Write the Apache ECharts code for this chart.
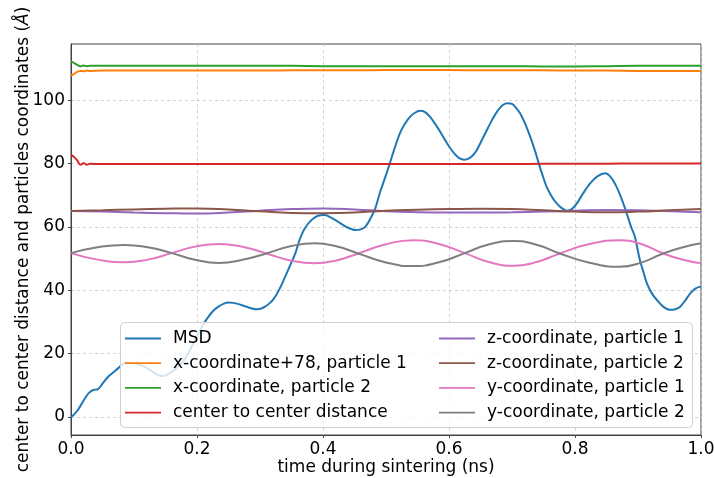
<!DOCTYPE html>
<html>
<head>
<meta charset="utf-8">
<script src="https://cdn.jsdelivr.net/npm/echarts@6/dist/echarts.min.js"></script>
<style>
html,body{margin:0;padding:0;background:#fff;}
#chart{width:714px;height:478px;}
</style>
</head>
<body>
<div id="chart"></div>
<script>
// ---- data ----
var seriesNames = ['MSD', 'x-coordinate+78, particle 1', 'x-coordinate, particle 2', 'center to center distance',
  'z-coordinate, particle 1', 'z-coordinate, particle 2', 'y-coordinate, particle 1', 'y-coordinate, particle 2'];
var xTickLabels = ['0.0', '0.2', '0.4', '0.6', '0.8', '1.0'];
var yTickValues = [0, 20, 40, 60, 80, 100];

var msdT = [0,0.005,0.012,0.018,0.022,0.028,0.035,0.043,0.05,0.059,0.067,0.075,0.086,0.1,0.117,0.133,0.144,0.152,0.16,0.17,
  0.178,0.186,0.194,0.202,0.21,0.218,0.226,0.234,0.242,0.25,0.258,0.266,0.281,0.295,0.302,0.308,0.316,0.324,0.332,0.34,
  0.348,0.356,0.363,0.371,0.382,0.392,0.403,0.413,0.424,0.437,0.451,0.46,0.467,0.475,0.483,0.49,0.498,0.506,0.514,0.522,
  0.53,0.538,0.546,0.554,0.562,0.57,0.578,0.586,0.594,0.602,0.61,0.617,0.624,0.631,0.638,0.644,0.652,0.66,0.668,0.676,
  0.684,0.692,0.7,0.707,0.713,0.721,0.729,0.737,0.744,0.75,0.755,0.763,0.771,0.779,0.787,0.795,0.803,0.813,0.824,0.836,
  0.848,0.857,0.866,0.874,0.882,0.889,0.895,0.903,0.909,0.914,0.922,0.93,0.94,0.951,0.959,0.967,0.975,0.983,0.991,1.0];
var msdV = [0,0.8,2.5,4.5,5.8,7.5,8.5,8.8,10.5,12.7,14.0,15.4,17.1,16.9,15.9,13.8,12.9,13.3,14.3,15.9,
  17.5,20.1,23.2,26.4,29.2,31.6,33.5,34.8,35.7,36.1,36.0,35.6,34.6,34.0,34.2,34.8,36.0,37.9,40.8,44.3,
  47.9,51.6,56.0,59.5,62.2,63.5,63.7,62.9,61.6,60.0,59.0,59.2,60.0,62.5,65.8,70.6,75.2,80.0,85.0,89.5,
  92.5,94.7,96.0,96.6,96.2,94.7,92.5,90.0,87.3,84.8,82.8,81.6,81.2,81.5,82.6,84.2,87.3,90.5,93.6,96.3,
  98.2,99.0,98.8,97.4,95.8,92.5,88.4,83.7,79.0,75.4,72.6,69.6,67.4,65.9,65.1,65.6,67.4,70.6,73.7,76.0,
  76.9,75.6,72.6,68.8,64.3,60.0,56.9,49.5,45.5,42.2,39.0,36.9,34.8,33.8,34.0,34.8,36.8,39.0,40.5,41.2];

var xcT = [0,0.005,0.01,0.015,0.02,0.025,0.03,0.05,0.1,0.15,0.2,0.25,0.3,0.35,0.4,0.45,0.5,0.55,0.6,0.65,0.7,0.75,0.8,0.85,0.9,0.95,1.0];
var xP1 = [107.7,108.3,108.9,109.2,109.1,109.3,109.2,109.3,109.3,109.3,109.3,109.3,109.3,109.4,109.4,109.4,109.5,109.5,109.5,109.4,109.4,109.4,109.3,109.3,109.2,109.2,109.2];
var xP2 = [112.2,111.7,111.1,110.7,110.9,110.7,110.8,110.8,110.8,110.8,110.8,110.8,110.8,110.8,110.7,110.7,110.7,110.7,110.7,110.7,110.7,110.6,110.6,110.7,110.8,110.8,110.8];
var ctc = [82.7,82.0,80.9,79.6,80.1,79.6,79.9,79.8,79.8,79.8,79.8,79.8,79.8,79.8,79.8,79.8,79.8,79.8,79.8,79.8,79.8,79.9,79.9,79.9,80.0,80.0,80.0];

var zT = [0,0.05,0.1,0.15,0.2,0.25,0.3,0.35,0.4,0.45,0.5,0.55,0.6,0.65,0.7,0.75,0.8,0.85,0.9,0.95,1.0];
var zP1 = [65.0,64.8,64.5,64.3,64.2,64.5,65.1,65.6,65.8,65.5,64.9,64.6,64.5,64.5,64.6,64.8,65.1,65.3,65.2,64.9,64.6];
var zP2 = [65.0,65.2,65.5,65.7,65.8,65.5,64.9,64.4,64.3,64.5,65.1,65.4,65.6,65.7,65.6,65.2,64.8,64.6,64.8,65.2,65.6];

var yT = [0,0.042,0.085,0.122,0.16,0.197,0.235,0.272,0.31,0.348,0.387,0.421,0.456,0.5,0.543,0.584,0.625,0.663,0.702,0.739,0.776,0.823,0.871,0.905,0.94,0.97,1.0];
var yP1 = [51.7,49.65,48.8,49.65,51.7,53.75,54.6,53.7,51.6,49.4,48.5,49.4,51.6,54.5,55.8,54.6,51.7,48.9,47.7,48.9,51.6,54.55,55.8,54.6,51.6,49.7,48.5];
var yP2 = [51.7,53.55,54.3,53.55,51.7,49.6,48.6,49.6,51.6,53.85,54.8,53.85,51.6,48.75,47.6,48.8,51.7,54.4,55.5,54.35,51.6,48.65,47.4,48.7,51.6,53.5,54.8];

var colors = ['#1f77b4','#ff7f0e','#2ca02c','#d62728','#9467bd','#8c564b','#e377c2','#7f7f7f'];

function zip(t, v){ return t.map(function(x,i){ return [x, v[i]]; }); }
var seriesData = [zip(msdT,msdV), zip(xcT,xP1), zip(xcT,xP2), zip(xcT,ctc), zip(zT,zP1), zip(zT,zP2), zip(yT,yP1), zip(yT,yP2)];

var FONT = 'DejaVu Sans';
var FS = 17;
var series = seriesNames.map(function(n, i){
  return {
    name: n, type: 'line', data: seriesData[i], showSymbol: false, symbol: 'none',
    smooth: i === 0 ? 0.3 : 0.5,
    lineStyle: {width: 2, color: colors[i]}, itemStyle: {color: colors[i]},
    z: 2 + i * 0.01, animation: false
  };
});

var legendCommon = {
  orient: 'vertical', itemWidth: 36, itemHeight: 14, itemGap: 7.7, z: 20,
  textStyle: {fontFamily: FONT, fontSize: FS, color: '#000', padding: [0, 0, 0, 7]},
  icon: 'path://M0,0 L40,0 L40,2 L0,2 Z', padding: 0, inactiveColor: '#ccc'
};

var chart = echarts.init(document.getElementById('chart'), null, {renderer: 'canvas'});
chart.setOption({
  animation: false,
  color: colors,
  grid: {left: 71, right: 13, top: 44, bottom: 43, show: true, borderColor: '#444', borderWidth: 1,
    containLabel: false, outerBoundsMode: 'none'},
  xAxis: {
    type: 'value', min: 0, max: 1, interval: 0.2,
    name: 'time during sintering (ns)', nameLocation: 'middle', nameGap: 24, nameMoveOverlap: false,
    nameTextStyle: {fontFamily: FONT, fontSize: FS, color: '#000'},
    axisLine: {show: true, onZero: false, lineStyle: {color: '#444', width: 1}},
    axisTick: {show: true, inside: false, length: 3, lineStyle: {color: '#444'}},
    axisLabel: {fontFamily: FONT, fontSize: FS, color: '#000', margin: 6,
      formatter: function(v){ return xTickLabels[Math.round(v/0.2)]; }},
    splitLine: {show: true, lineStyle: {color: '#c8c8c8', type: [3, 3], width: 0.8}}
  },
  yAxis: {
    type: 'value', min: -5.7, max: 117.7,
    name: 'center to center distance and particles coordinates ({i|Å})', nameLocation: 'middle', nameGap: 39, nameMoveOverlap: false,
    nameTextStyle: {fontFamily: FONT, fontSize: FS, color: '#000', rich: {i: {fontFamily: FONT, fontSize: FS, fontStyle: 'italic', color: '#000'}}},
    axisLine: {show: true, onZero: false, lineStyle: {color: '#444', width: 1}},
    axisTick: {show: true, inside: false, length: 3, customValues: yTickValues, lineStyle: {color: '#444'}},
    axisLabel: {fontFamily: FONT, fontSize: FS, color: '#000', margin: 6, customValues: yTickValues},
    splitLine: {show: true, lineStyle: {color: '#c8c8c8', type: [3, 3], width: 0.8}}
  },
  legend: [
    Object.assign({}, legendCommon, {left: 125, top: 330, data: seriesNames.slice(0,4)}),
    Object.assign({}, legendCommon, {left: 439, top: 330, data: seriesNames.slice(4,8)})
  ],
  graphic: {elements: [{
    type: 'rect', left: 120, top: 322, z: 15,
    shape: {width: 572, height: 105, r: 4},
    style: {fill: 'rgba(255,255,255,0.8)', stroke: '#d0d0d0', lineWidth: 1}
  }]},
  series: series
});
</script>
</body>
</html>
